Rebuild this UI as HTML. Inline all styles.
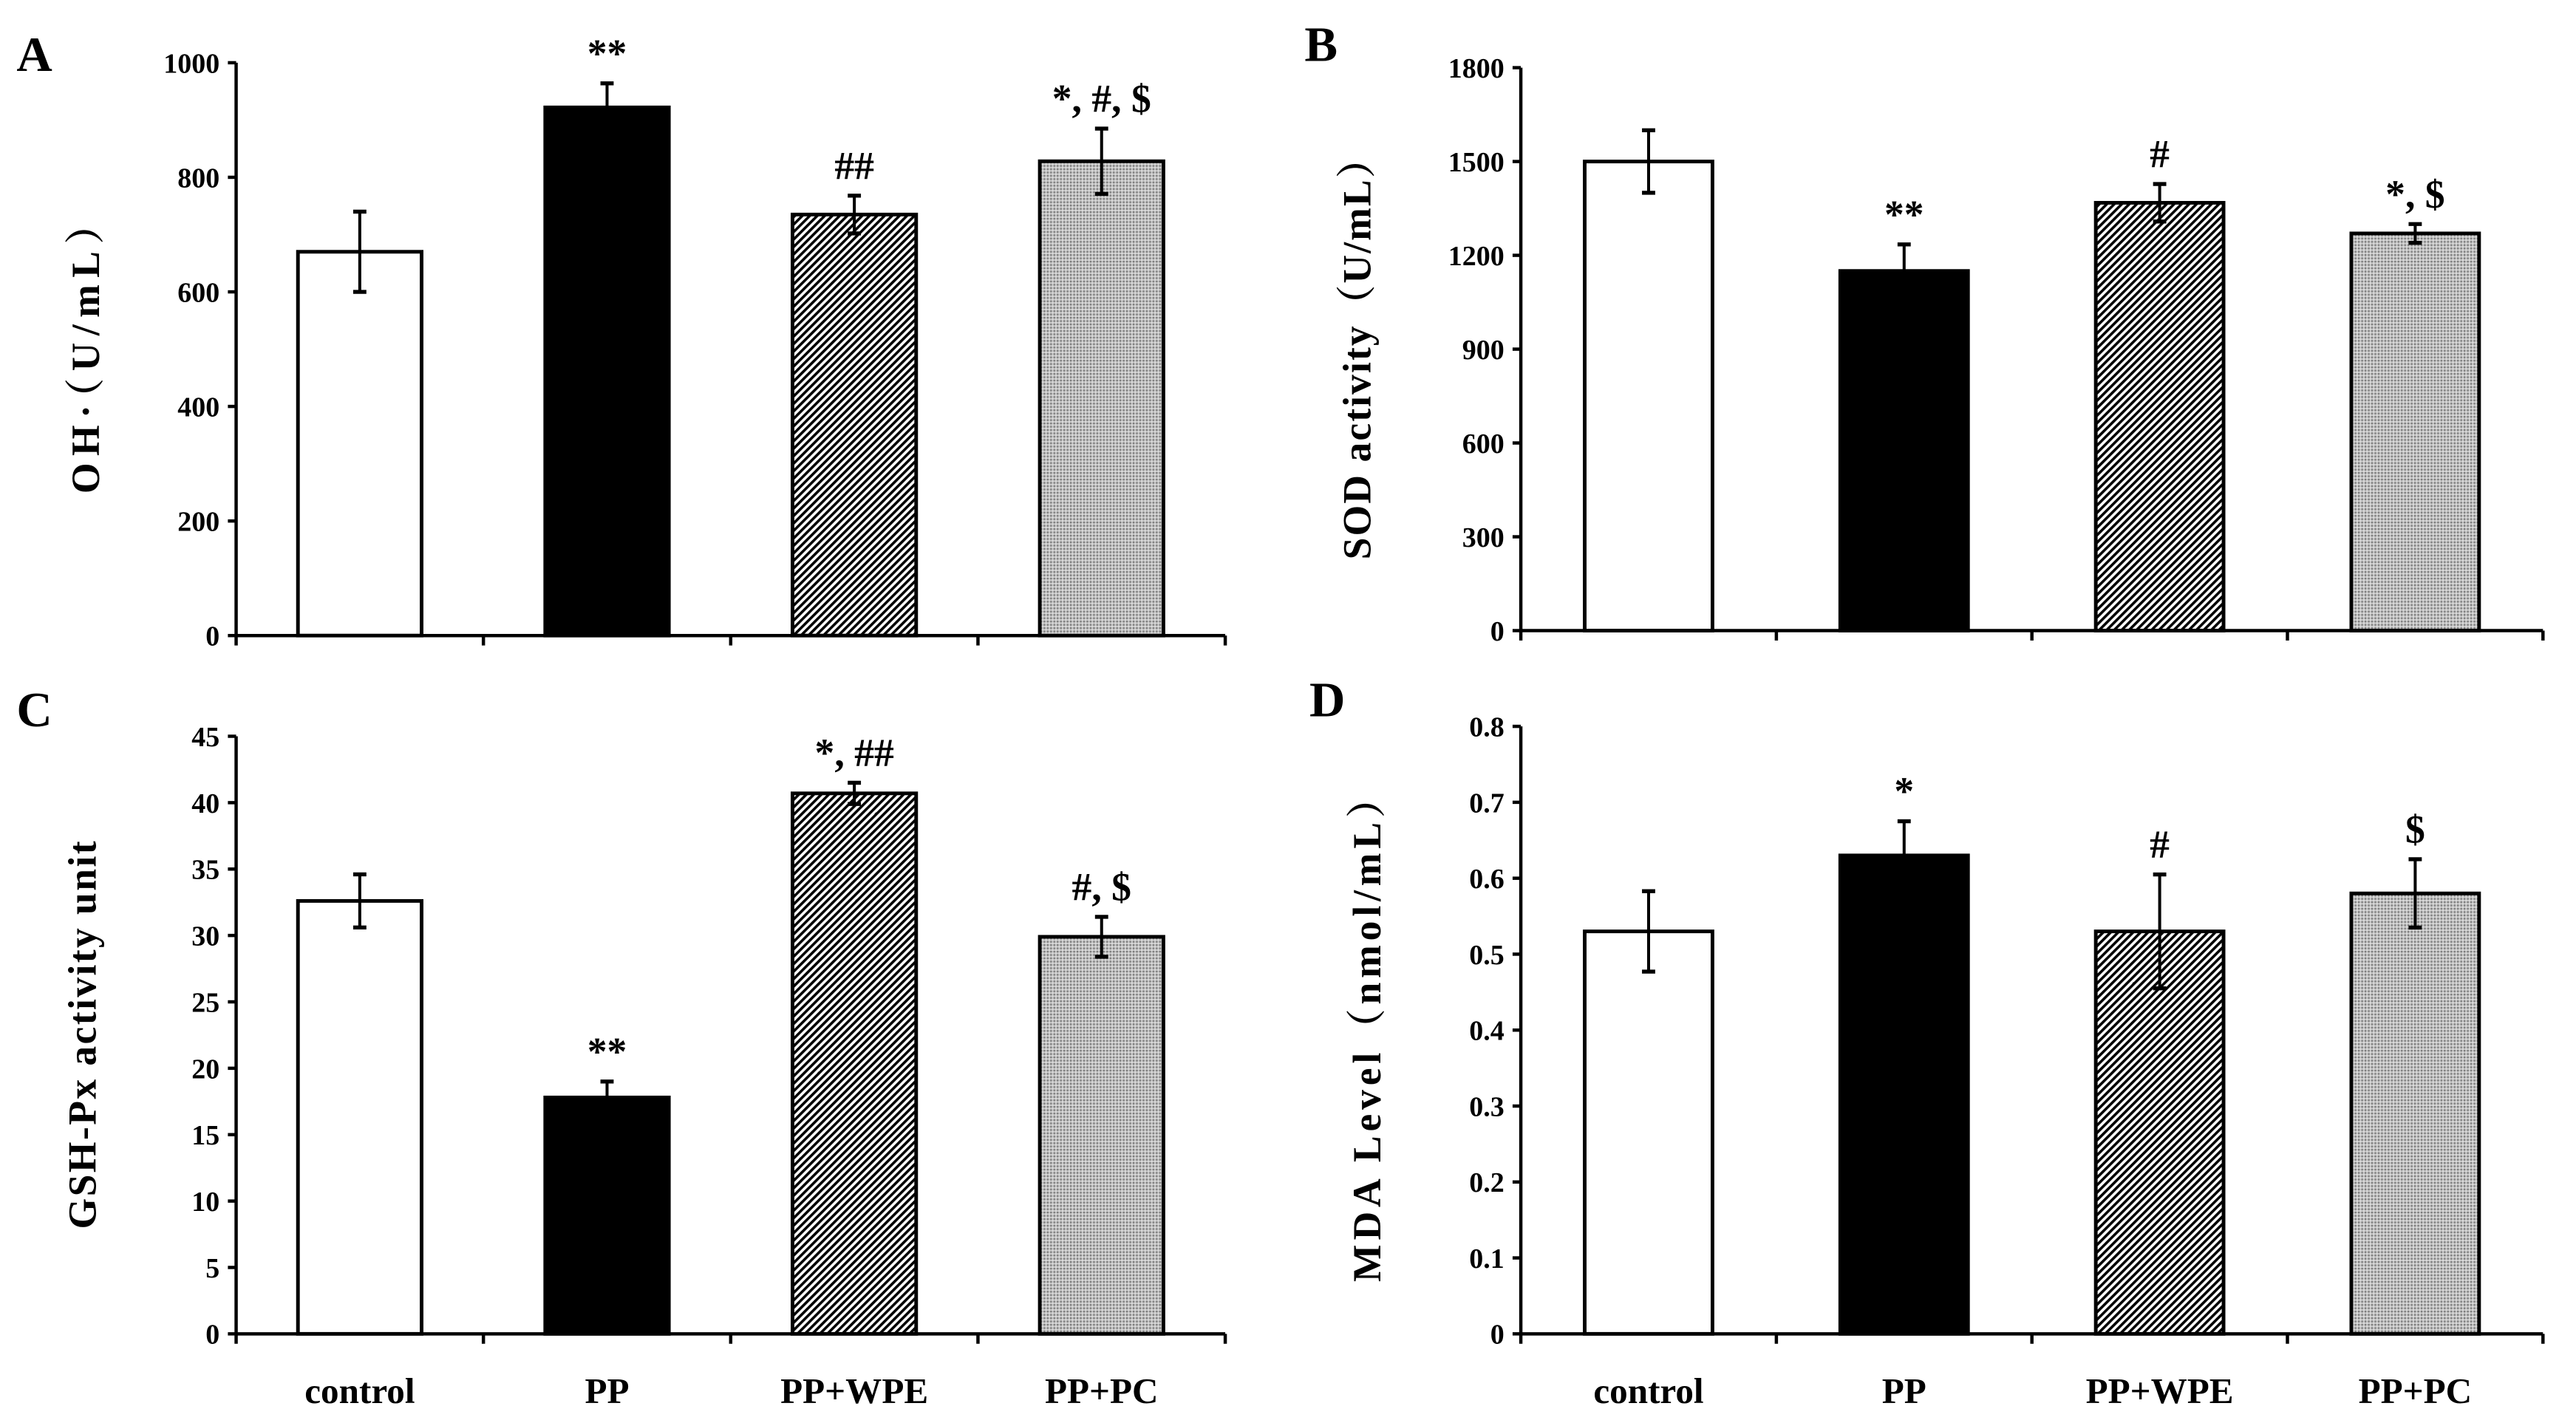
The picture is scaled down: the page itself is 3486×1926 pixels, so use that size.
<!DOCTYPE html>
<html><head><meta charset="utf-8"><style>
html,body{margin:0;padding:0;background:#fff;}
svg{display:block;}
text{font-family:"Liberation Serif","Noto Serif CJK SC",serif;font-weight:bold;fill:#000;}
</style></head><body>
<svg id="fig" xmlns="http://www.w3.org/2000/svg" width="3486" height="1926" viewBox="0 0 1560 862" preserveAspectRatio="none">
<defs>
<pattern id="hatch" patternUnits="userSpaceOnUse" width="3.2" height="3.2" patternTransform="rotate(45)">
<rect width="3.2" height="3.2" fill="#fff"/><rect width="1.6" height="3.2" fill="#000"/>
</pattern>
<pattern id="dots" patternUnits="userSpaceOnUse" width="2" height="2">
<rect width="2" height="2" fill="#c4c4c4"/><rect width="1" height="1" fill="#7a7a7a"/><rect x="1" y="1" width="1" height="1" fill="#dcdcdc"/>
</pattern>
</defs>
</svg>
<script>
const categories = ["control","PP","PP+WPE","PP+PC"];
const valuesA = [670, 922, 735, 828];
const errorsA = [70, 42, 33, 57];
const marksA = ["", "**", "##", "*, #, $"];
const ticksA = [0,200,400,600,800,1000];
const valuesB = [1500, 1150, 1368, 1270];
const errorsB = [100, 85, 60, 30];
const marksB = ["", "**", "#", "*, $"];
const ticksB = [0,300,600,900,1200,1500,1800];
const valuesC = [32.6, 17.8, 40.7, 29.9];
const errorsC = [2.0, 1.2, 0.8, 1.5];
const marksC = ["", "**", "*, ##", "#, $"];
const ticksC = [0,5,10,15,20,25,30,35,40,45];
const valuesD = [0.53, 0.63, 0.53, 0.58];
const errorsD = [0.053, 0.045, 0.075, 0.045];
const marksD = ["", "*", "#", "$"];
const ticksD = [0,0.1,0.2,0.3,0.4,0.5,0.6,0.7,0.8];

const NS="http://www.w3.org/2000/svg";
const svg=document.getElementById('fig');
const fills=["#fff","#000","url(#hatch)","url(#dots)"];
function mk(tag,attrs,parent){const e=document.createElementNS(NS,tag);for(const k in attrs)e.setAttribute(k,attrs[k]);(parent||svg).appendChild(e);return e;}

function panel(id,letter,lx,ly,x0,x1,yTop,yBot,ticks,values,errors,marks,ytitle,tx,titleLen,showX){
  const g=mk('g',{});
  
  
  const ymax=ticks[ticks.length-1];
  const Y=v=>yBot-(v/ymax)*(yBot-yTop);
  const cw=(x1-x0)/categories.length;
  const X=i=>x0+cw*i+cw/2;
  const L=mk('text',{x:lx,y:ly,'font-size':30},g);L.textContent=letter;
  
  
  values.forEach((v,i)=>{
    const bw=cw*0.5;
    const r=mk('rect',{x:X(i)-bw/2,y:Y(v),width:bw,height:yBot-Y(v),fill:fills[i],stroke:'#000','stroke-width':2.2},g);
    
    
    const e=errors[i];
    const eg=mk('g',{stroke:'#000','stroke-width':1.8},g);
    
    
    mk('line',{x1:X(i),x2:X(i),y1:Y(v+e),y2:Y(v-e)},eg);
    mk('line',{x1:X(i)-4,x2:X(i)+4,y1:Y(v+e),y2:Y(v+e),'stroke-width':2.4},eg);
    mk('line',{x1:X(i)-4,x2:X(i)+4,y1:Y(v-e),y2:Y(v-e),'stroke-width':2.4},eg);
    if(marks[i]){
      const t=mk('text',{x:X(i),y:Y(v+e)-10,'font-size':24,'text-anchor':'middle'},g);
      t.textContent=marks[i];
      
      
    }
  });
  const ax=mk('g',{stroke:'#000','stroke-width':2},g);
  
  
  mk('line',{x1:x0,x2:x0,y1:yTop,y2:yBot+1},ax);
  mk('line',{x1:x0,x2:x1,y1:yBot,y2:yBot},ax);
  for(let i=0;i<=categories.length;i++) mk('line',{x1:x0+cw*i,x2:x0+cw*i,y1:yBot,y2:yBot+6},ax);
  ticks.forEach(t=>{
    mk('line',{x1:x0-5,x2:x0,y1:Y(t),y2:Y(t)},ax);
    const tl=mk('text',{x:x0-10,y:Y(t)+6,'font-size':17,'text-anchor':'end'},g);
    tl.textContent=String(t);
    
    
  });
  const yt=mk('text',{x:0,y:0,'font-size':24,'text-anchor':'middle',textLength:titleLen,lengthAdjust:'spacing',transform:`translate(${tx},${(yTop+yBot)/2}) rotate(-90)`},g);
  yt.textContent=ytitle;
  
  
  if(showX){
    categories.forEach((c,i)=>{
      const xl=mk('text',{x:X(i),y:yBot+42,'font-size':22,'text-anchor':'middle'},g);
      xl.textContent=c;
      
      
    });
  }
}
panel('a','A',10,43,143,742,38,385,ticksA,valuesA,errorsA,marksA,'OH·（U/mL）',60,175,false);
panel('b','B',790,37,921,1540,41,382,ticksB,valuesB,errorsB,marksB,'SOD activity（U/mL）',830,255,false);
panel('c','C',10,440,143,742,446,808,ticksC,valuesC,errorsC,marksC,'GSH-Px activity unit',58,235,true);
panel('d','D',793,434,921,1540,440,808,ticksD,valuesD,errorsD,marksD,'MDA Level（nmol/mL）',836,305,true);
</script>
</body></html>
